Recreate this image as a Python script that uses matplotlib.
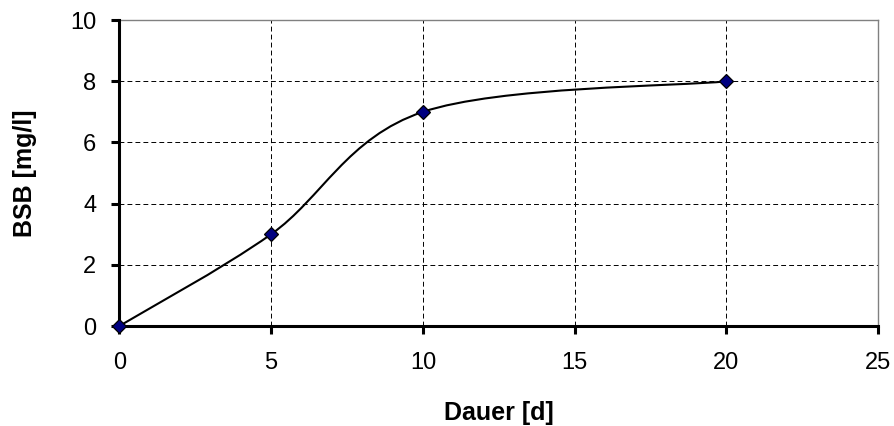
import numpy as np
import matplotlib
matplotlib.use("Agg")
import matplotlib.pyplot as plt
from matplotlib.path import Path
from matplotlib.patches import PathPatch

plt.rcParams["font.family"] = ["Liberation Sans", "DejaVu Sans"]

# BSB measurements over incubation time
dauer = [0, 5, 10, 20]
bsb = [0, 3, 7, 8]

x_ticks = [0, 5, 10, 15, 20, 25]
y_ticks = [0, 2, 4, 6, 8, 10]

fig = plt.figure(figsize=(8.95, 4.26), dpi=100)
ax = fig.add_axes([0.1333, 0.2347, 0.848, 0.718])
ax.set_xlim(0, 25)
ax.set_ylim(0, 10)


def smooth_path(xs, ys):
    """Cubic Bezier through the points with Catmull-Rom style tangents."""
    pts = np.column_stack([xs, ys]).astype(float)
    n = len(pts)
    verts = [pts[0]]
    codes = [Path.MOVETO]
    for i in range(n - 1):
        p0 = pts[i - 1] if i > 0 else pts[i]
        p1 = pts[i]
        p2 = pts[i + 1]
        p3 = pts[i + 2] if i + 2 < n else pts[i + 1]
        c1 = p1 + (p2 - p0) / 6.0
        c2 = p2 - (p3 - p1) / 6.0
        verts += [c1, c2, p2]
        codes += [Path.CURVE4] * 3
    return Path(verts, codes)


ax.add_patch(PathPatch(smooth_path(dauer, bsb), facecolor="none",
                       edgecolor="black", lw=1.5, zorder=3,
                       capstyle="round", joinstyle="round"))
ax.plot(dauer, bsb, linestyle="none", marker="D", markersize=7,
        markerfacecolor="#000080", markeredgecolor="black",
        markeredgewidth=0.9, zorder=6, clip_on=False)

ax.set_xticks(x_ticks)
ax.set_yticks(y_ticks)
ax.grid(True, color="black", linestyle=(0, (5, 3.2)), linewidth=0.7)
ax.set_axisbelow(True)

for side in ("top", "right"):
    ax.spines[side].set_color("#808080")
    ax.spines[side].set_linewidth(1.0)
for side in ("left", "bottom"):
    ax.spines[side].set_color("black")
    ax.spines[side].set_linewidth(2.2)
    ax.spines[side].set_zorder(5)

ax.tick_params(axis="both", direction="out", length=5.5, width=2.2,
               color="black", labelsize=17, labelcolor="black")
ax.tick_params(axis="x", pad=13)
ax.tick_params(axis="y", pad=11)

ax.set_xlabel("Dauer [d]", fontsize=18, fontweight="bold", labelpad=20)
ax.set_ylabel("BSB [mg/l]", fontsize=18, fontweight="bold", labelpad=24)

fig.savefig("out.png", dpi=100, facecolor="white")
